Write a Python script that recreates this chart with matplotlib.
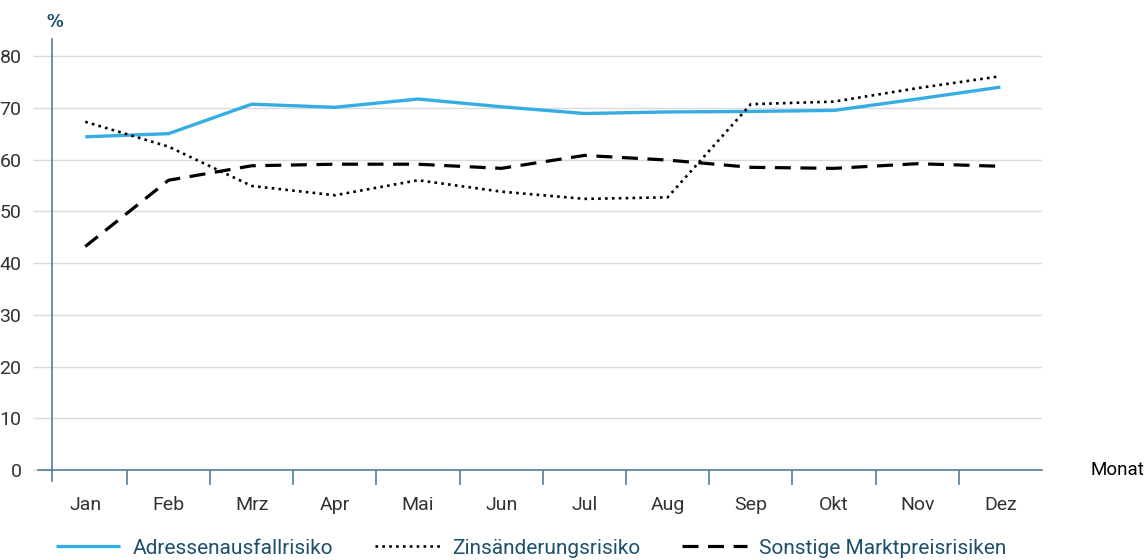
import matplotlib
matplotlib.use("Agg")
import matplotlib.pyplot as plt

months = ["Jan", "Feb", "Mrz", "Apr", "Mai", "Jun", "Jul", "Aug", "Sep", "Okt", "Nov", "Dez"]
adressen = [64.4, 65.0, 70.7, 70.1, 71.7, 70.2, 68.9, 69.2, 69.3, 69.5, 71.7, 74.0]
zins = [67.3, 62.5, 54.9, 53.1, 56.0, 53.8, 52.4, 52.7, 70.7, 71.2, 73.8, 76.1]
sonstige = [43.2, 56.0, 58.8, 59.1, 59.1, 58.3, 60.8, 59.9, 58.5, 58.3, 59.2, 58.7]
yticks = [0, 10, 20, 30, 40, 50, 60, 70, 80]
labels = ["Adressenausfallrisiko", "Zinsänderungsrisiko", "Sonstige Marktpreisrisiken"]

plt.rcParams["font.family"] = ["Roboto", "DejaVu Sans"]

W, H = 1146, 560
fig = plt.figure(figsize=(W / 100, H / 100), dpi=100)
ax = fig.add_axes([52 / W, (H - 470) / H, (1042 - 52) / W, (470 - 39) / H])

axis_col = "#4f7f99"
grid_col = "#d9d9de"
text_col = "#333333"
legend_col = "#1d4f6e"

x = list(range(len(months)))
l1, = ax.plot(x, adressen, color="#36ade2", lw=2.4, solid_capstyle="butt", zorder=3)
l2, = ax.plot(x, zins, color="black", lw=1.9, linestyle=(0, (1, 1.6)), zorder=3)
l3, = ax.plot(x, sonstige, color="black", lw=2.3, linestyle=(0, (5, 3)), zorder=3)

ax.set_xlim(-0.4, 11.5)
ax.set_ylim(0, 83.3)

for s in ["top", "right", "bottom"]:
    ax.spines[s].set_visible(False)
ax.spines["left"].set_color(axis_col)
ax.spines["left"].set_linewidth(1.2)

ax.set_yticks(yticks)
ax.set_yticklabels([str(v) for v in yticks])
ax.tick_params(axis="y", length=14, color=grid_col, width=1, labelsize=14,
               labelcolor=text_col, pad=8)
for v in yticks[1:]:
    ax.axhline(v, color=grid_col, lw=1, zorder=1)

ax.plot([-14 / 990, 1], [0, 0], transform=ax.get_yaxis_transform(), color=axis_col,
        lw=1.2, clip_on=False, zorder=4)
ax.plot([0, 0], [-11 / 431, 0], transform=ax.transAxes, color=axis_col, lw=1.2,
        clip_on=False, zorder=4)

ax.set_xticks([i + 0.5 for i in range(len(months) - 1)], minor=True)
ax.tick_params(axis="x", which="minor", length=11, color=axis_col, width=1.2)
ax.set_xticks(x)
ax.set_xticklabels(months)
ax.tick_params(axis="x", which="major", length=0, pad=19, labelsize=14, labelcolor=text_col)

fig.text(55 / W, 1 - 22 / H, "%", color=legend_col, fontsize=12, fontweight="bold",
         ha="center", va="center", family=["DejaVu Sans"])
fig.text(1091 / W, 1 - 470 / H, "Monat", color="black", fontsize=13.5, ha="left", va="center")

leg = fig.legend([l1, l2, l3], labels, loc="center", bbox_to_anchor=(531 / W, 1 - 548 / H),
                 ncol=3, frameon=False, fontsize=15, handlelength=3.1, columnspacing=2.0,
                 handletextpad=0.6)
for t in leg.get_texts():
    t.set_color(legend_col)

fig.savefig("out.png", dpi=100)
